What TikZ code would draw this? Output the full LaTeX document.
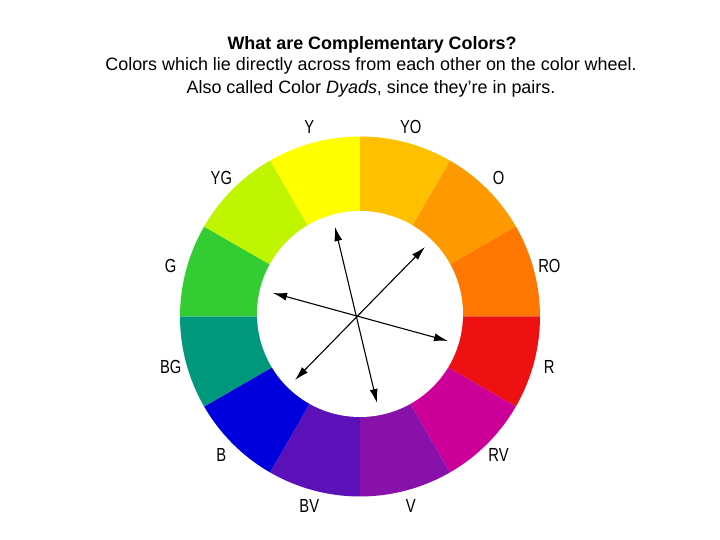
\documentclass[tikz,border=0pt]{standalone}
\usepackage{fontspec}
\setmainfont{Liberation Sans}
\newfontfamily\lblfont[FakeStretch=0.78]{Liberation Sans}
\usetikzlibrary{arrows.meta}
\definecolor{cY}{RGB}{255,255,0}
\definecolor{cYO}{RGB}{255,192,0}
\definecolor{cO}{RGB}{255,153,0}
\definecolor{cRO}{RGB}{255,119,0}
\definecolor{cR}{RGB}{238,17,17}
\definecolor{cRV}{RGB}{204,0,153}
\definecolor{cV}{RGB}{136,17,170}
\definecolor{cBV}{RGB}{92,17,184}
\definecolor{cB}{RGB}{0,0,221}
\definecolor{cBG}{RGB}{0,152,125}
\definecolor{cG}{RGB}{51,204,51}
\definecolor{cYG}{RGB}{192,245,0}
\tikzset{
  wheellabel/.style={font=\lblfont\fontsize{19}{19}\selectfont},
  headline/.style={font=\fontsize{18}{18}\selectfont},
  pairarrow/.style={line width=1.1bp,{Latex[length=14bp,width=8bp]}-{Latex[length=14bp,width=8bp]}}
}

\begin{document}
\begin{tikzpicture}[x=1bp,y=1bp]
   \useasboundingbox (0,0) rectangle (720,540);
   \fill[white] (0,0) rectangle (720,540);
   \node[headline,font=\bfseries\fontsize{18}{18}\selectfont] (title) at (372,495) {What are Complementary Colors?};
   \node[headline] (line1) at (371,474) {Colors which lie directly across from each other on the color wheel.};
   \node[headline] (line2) at (371,451) {Also called Color \textit{Dyads}, since they're in pairs.};
   \coordinate (c) at (360,223.5);
   \foreach \a/\col in {90/cY,60/cYO,30/cO,0/cRO,-30/cR,-60/cRV,-90/cV,-120/cBV,-150/cB,180/cBG,150/cG,120/cYG} {
    \fill[\col] (c) -- ++(\a:180) arc[start angle=\a,end angle=\a+30,radius=180] -- cycle;
   }
   \fill[white] (360,226) circle(103);
   \foreach \a/\n in {105/Y,75/YO,45/O,15/RO,-15/R,-45/RV,-75/V,-105/BV,-135/B,-165/BG,165/G,135/YG} {
    \node[wheellabel] (l-\n) at ([shift={(\a:196)}]c) {\n};
   }
   \coordinate (a1) at (335,313);
   \coordinate (b1) at (377,137);
   \coordinate (a2) at (425,293);
   \coordinate (b2) at (295,160);
   \coordinate (a3) at (273,247);
   \coordinate (b3) at (448,199);
   \draw[pairarrow] (a1) -- (b1);
   \draw[pairarrow] (a2) -- (b2);
   \draw[pairarrow] (a3) -- (b3);
\end{tikzpicture}
\end{document}
